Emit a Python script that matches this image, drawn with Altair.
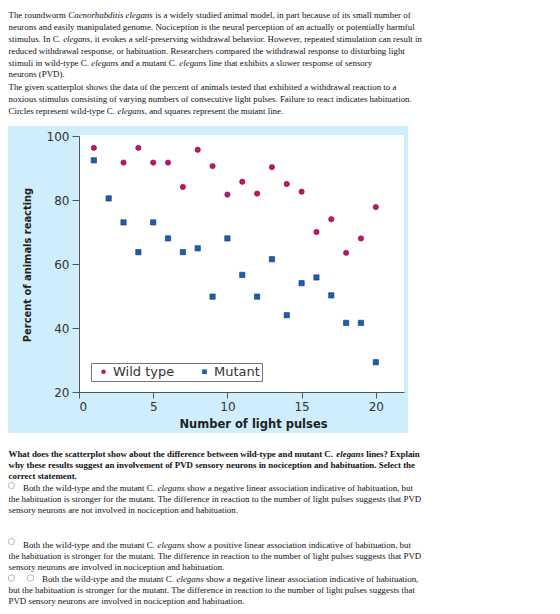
import altair as alt
import pandas as pd

# ---------------- data ----------------
wt_pulses = [1, 3, 4, 5, 6, 7, 8, 9, 10, 11, 12, 13, 14, 15, 16, 17, 18, 19, 20]
wt_pct = [96.3, 91.7, 96.3, 91.7, 91.7, 84.1, 95.7, 90.6, 81.7, 85.7, 82.0, 90.3,
          85.0, 82.6, 70.0, 74.0, 63.5, 68.0, 77.8]
mut_pulses = list(range(1, 21))
mut_pct = [92.4, 80.5, 73.0, 63.7, 73.0, 68.0, 63.7, 64.9, 49.8, 68.0, 56.6, 49.8,
           61.5, 44.0, 54.0, 55.8, 50.2, 41.6, 41.6, 29.3]
groups = ["Wild type", "Mutant"]
group_colors = ["#c4136a", "#1d5ea8"]
group_strokes = ["#7d0a42", "#0e3a72"]
x_ticks = [0, 5, 10, 15, 20]
y_ticks = [20, 40, 60, 80, 100]

# ---------------- text content ----------------
R, I, B, BI = "r", "i", "b", "bi"
para1 = [
    [(R, "The roundworm "), (I, "Caenorhabditis elegans"), (R, " is a widely studied animal model, in part because of its small number of")],
    [(R, "neurons and easily manipulated genome. Nociception is the neural perception of an actually or potentially harmful")],
    [(R, "stimulus. In C. "), (I, "elegans"), (R, ", it evokes a self-preserving withdrawal behavior. However, repeated stimulation can result in")],
    [(R, "reduced withdrawal response, or habituation. Researchers compared the withdrawal response to disturbing light")],
    [(R, "stimuli in wild-type C. "), (I, "elegans"), (R, " and a mutant C. "), (I, "elegans"), (R, " line that exhibits a slower response of sensory")],
    [(R, "neurons (PVD).")],
]
para2 = [
    [(R, "The given scatterplot shows the data of the percent of animals tested that exhibited a withdrawal reaction to a")],
    [(R, "noxious stimulus consisting of varying numbers of consecutive light pulses. Failure to react indicates habituation.")],
    [(R, "Circles represent wild-type C. "), (I, "elegans"), (R, ", and squares represent the mutant line.")],
]
question = [
    [(B, "What does the scatterplot show about the difference between wild-type and mutant C. "), (BI, "elegans"), (B, " lines? Explain")],
    [(B, "why these results suggest an involvement of PVD sensory neurons in nociception and habituation. Select the")],
    [(B, "correct statement.")],
]
opt1 = [
    [(R, "Both the wild-type and the mutant C. "), (I, "elegans"), (R, " show a negative linear association indicative of habituation, but")],
    [(R, "the habituation is stronger for the mutant. The difference in reaction to the number of light pulses suggests that PVD")],
    [(R, "sensory neurons are not involved in nociception and habituation.")],
]
opt2 = [
    [(R, "Both the wild-type and the mutant C. "), (I, "elegans"), (R, " show a positive linear association indicative of habituation, but")],
    [(R, "the habituation is stronger for the mutant. The difference in reaction to the number of light pulses suggests that PVD")],
    [(R, "sensory neurons are involved in nociception and habituation.")],
]
opt3 = [
    [(R, "Both the wild-type and the mutant C. "), (I, "elegans"), (R, " show a negative linear association indicative of habituation,")],
    [(R, "but the habituation is stronger for the mutant. The difference in reaction to the number of light pulses suggests that")],
    [(R, "PVD sensory neurons are involved in nociception and habituation.")],
]

# ---------------- layout helpers (Times metrics, Liberation Serif) ----------------
LOW = "abcdefghijklmnopqrstuvwxyz"
UP = "ABCDEFGHIJKLMNOPQRSTUVWXYZ"
def mk(lower, upper, punct):
    d = dict(zip(LOW, lower)); d.update(dict(zip(UP, upper))); d.update(punct); return d
W = {
    R: mk([444,500,444,500,444,333,500,500,278,278,500,278,778,500,500,500,500,333,389,278,500,500,722,500,500,444],
          [722,667,667,722,611,556,722,722,333,389,722,611,889,722,722,556,722,667,556,611,722,722,944,722,722,611],
          {" ":250, ".":250, ",":250, "-":333, "(":333, ")":333, "?":444, ":":278}),
    I: mk([500,500,444,500,444,278,500,500,278,278,444,278,722,500,500,500,500,389,389,278,500,444,667,444,444,389],
          [611,611,667,722,611,611,722,722,333,444,667,556,833,667,722,611,722,611,500,556,722,611,833,611,556,556],
          {" ":250, ".":250, ",":250, "-":333}),
    B: mk([500,556,444,556,444,333,500,556,278,333,556,278,833,556,500,556,556,444,389,333,556,500,722,500,500,444],
          [722,667,722,722,667,611,778,778,389,500,778,667,944,722,778,611,778,722,556,667,722,722,1000,722,722,667],
          {" ":250, ".":250, ",":250, "-":333, "?":500, "(":333, ")":333}),
    BI: mk([500,500,444,500,444,333,500,556,278,278,500,278,778,556,500,500,500,389,389,278,556,444,667,500,444,389],
           [667,667,667,722,667,667,722,778,389,500,667,611,889,722,722,611,722,667,556,611,722,667,889,667,611,611],
           {" ":250, ".":250, ",":250}),
}
FS = 8.9
rows = []
def width(style, txt):
    return sum(W[style].get(c, 500) for c in txt) * FS / 1000.0

def place(lines, x_first, x_rest, ys):
    for k, (segs, y) in enumerate(zip(lines, ys)):
        x = x_first if k == 0 else x_rest
        for style, txt in segs:
            lead = len(txt) - len(txt.lstrip(" "))
            rows.append({"px": x + width(style, " " * lead), "py": y, "txt": txt.strip(" "), "style": style})
            x += width(style, txt)

# chart coordinates = page x, page y - 8
place(para1, 0.5, 0.5, [7.0, 19.2, 31.2, 43.0, 54.7, 66.0])
place(para2, 0.5, 0.5, [79.3, 91.0, 102.7])
place(question, 0.5, 0.5, [446.0, 457.0, 467.7])
place(opt1, 15.0, 0.5, [480.3, 491.3, 502.0])
place(opt2, 15.0, 0.5, [537.0, 547.7, 558.7])
place(opt3, 34.0, 0.5, [571.0, 582.0, 592.7])
text_df = pd.DataFrame(rows)
radio_df = pd.DataFrame({"px": [3.5, 3.5, 3.5, 22.5], "py": [477.5, 533.5, 570.0, 570.0]})

W_TOTAL, H_TOTAL = 544, 598
AXIS_Y = 384
AXIS_X = 71

pts = pd.DataFrame({
    "pulses": wt_pulses + mut_pulses,
    "pct": wt_pct + mut_pct,
    "type": ["Wild type"] * len(wt_pulses) + ["Mutant"] * len(mut_pulses),
})

legend = alt.Legend(orient="none", legendX=83, legendY=355, direction="horizontal",
                    title=None, fillColor="white", strokeColor="#777777", padding=2,
                    symbolOffset=4, labelOffset=3, columnPadding=19, symbolSize=22,
                    labelFont="DejaVu Sans", labelFontSize=13, labelColor="#333333",
                    symbolStrokeWidth=0)

xs = alt.Scale(domain=[0, 21.9], range=[AXIS_X, 396], nice=False, zero=False)
ys = alt.Scale(domain=[20, 100], range=[AXIS_Y, 128], nice=False, zero=False)

panel = alt.Chart(alt.Data(values=[{}])).mark_rect(color="#cdeefa").encode(
    x=alt.value(0), x2=alt.value(400), y=alt.value(118), y2=alt.value(425))
white = alt.Chart(alt.Data(values=[{}])).mark_rect(color="white").encode(
    x=alt.value(AXIS_X), x2=alt.value(396), y=alt.value(127), y2=alt.value(AXIS_Y))

points = alt.Chart(pts).mark_point(filled=True, size=28, opacity=1, strokeWidth=0.6).encode(
    x=alt.X("pulses:Q", scale=xs,
            axis=alt.Axis(values=x_ticks, offset=-(H_TOTAL - AXIS_Y), tickSize=6, labelPadding=3,
                          zindex=2,
                          title="Number of light pulses", titleX=245, titleY=32,
                          titleBaseline="middle", titleAlign="center",
                          titleFont="DejaVu Sans", titleFontSize=11.5, titleFontWeight="bold",
                          titleColor="#222222")),
    y=alt.Y("pct:Q", scale=ys,
            axis=alt.Axis(values=y_ticks, offset=-AXIS_X, tickSize=7, labelPadding=3,
                          zindex=2,
                          title="Percent of animals reacting", titleX=19 - AXIS_X, titleY=264.5 - 8,
                          titleAngle=270, titleBaseline="middle", titleAlign="center",
                          titleFont="Liberation Sans Narrow, DejaVu Sans Condensed, Liberation Sans, sans-serif",
                          titleFontSize=11, titleFontWeight="bold", titleColor="#222222")),
    color=alt.Color("type:N", scale=alt.Scale(domain=groups, range=group_colors), legend=legend),
    shape=alt.Shape("type:N", scale=alt.Scale(domain=groups, range=["circle", "square"]), legend=legend),
    stroke=alt.Stroke("type:N", scale=alt.Scale(domain=groups, range=group_strokes), legend=None),
)

def text_layer(style, font_style, font_weight):
    return alt.Chart(text_df[text_df["style"] == style]).mark_text(
        align="left", baseline="middle", font="Liberation Serif, Times New Roman, serif",
        fontSize=FS, fontStyle=font_style, fontWeight=font_weight, color="#111111"
    ).encode(x=alt.X("px:Q", scale=None), y=alt.Y("py:Q", scale=None), text="txt:N")

radios = alt.Chart(radio_df).mark_point(shape="circle", filled=False, size=40,
                                        stroke="#9a9a9a", strokeWidth=1).encode(
    x=alt.X("px:Q", scale=None), y=alt.Y("py:Q", scale=None))

chart = alt.layer(
    panel, white, points,
    text_layer(R, "normal", "normal"), text_layer(I, "italic", "normal"),
    text_layer(B, "normal", "bold"), text_layer(BI, "italic", "bold"),
    radios,
).properties(
    width=W_TOTAL, height=H_TOTAL, autosize=alt.AutoSizeParams(type="none"), padding=0,
    background="white",
).configure_view(stroke=None).configure_axis(
    grid=False, domainColor="#555555", tickColor="#555555", labelColor="#333333",
    labelFont="DejaVu Sans", labelFontSize=12, domainWidth=1, tickWidth=1,
)

chart.save("out.html", embed_options={"renderer": "svg", "actions": False})
